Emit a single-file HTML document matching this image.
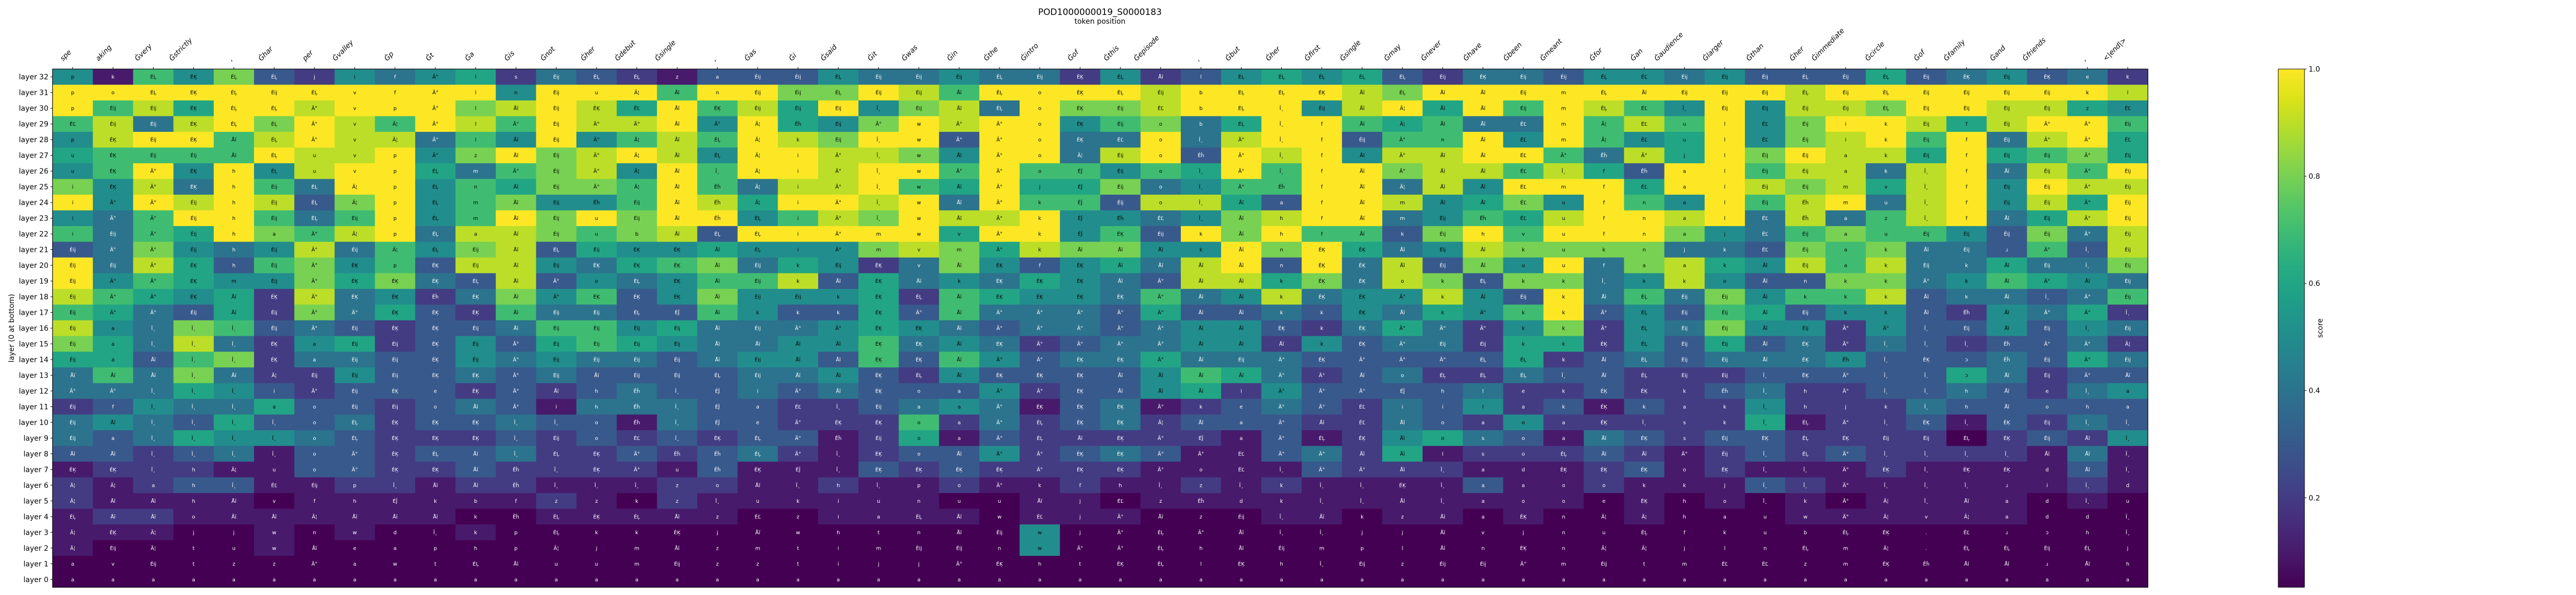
<!DOCTYPE html>
<html>
<head>
<meta charset="utf-8">
<style>
  html,body{margin:0;padding:0;background:#fff;width:5200px;height:1155px;overflow:hidden;}
  svg{display:block;font-family:"DejaVu Sans","Liberation Sans",sans-serif;overflow:hidden;}
</style>
</head>
<body>
<svg id="chart" xmlns="http://www.w3.org/2000/svg" width="5200" height="1155" viewBox="0 0 5200 1155" style="width:5200px;height:1155px;">
  <rect x="0" y="0" width="5200" height="1155" fill="#ffffff"/>
  <text x="2135" y="29" text-anchor="middle" font-size="17" fill="#000">POD1000000019_S0000183</text>
  <text x="2135" y="46" text-anchor="middle" font-size="14" fill="#000">token position</text>
  <text transform="translate(27,637) rotate(-90)" text-anchor="middle" font-size="14" fill="#000">layer (0 at bottom)</text>
  <g id="cells"></g>
  <g id="celltext"></g>
  <g id="xticks"></g>
  <g id="yticks"></g>
  <rect x="102" y="134" width="4067" height="1006" fill="none" stroke="#000" stroke-width="1.2"/>
  <defs>
    <linearGradient id="vir" x1="0" y1="1" x2="0" y2="0"></linearGradient>
  </defs>
  <rect x="4422" y="134" width="51" height="1006" fill="url(#vir)" stroke="#000" stroke-width="1"/>
  <g id="cbticks"></g>
  <text transform="translate(4508,637) rotate(-90)" text-anchor="middle" font-size="14" fill="#000">score</text>
</svg>
<script>
const tokens = ["spe","aking","Ġvery","Ġstrictly",",","Ġhar","per","Ġvalley","Ġp","Ġt","Ġa","Ġis","Ġnot","Ġher","Ġdebut","Ġsingle",",","Ġas","Ġi","Ġsaid","Ġit","Ġwas","Ġin","Ġthe","Ġintro","Ġof","Ġthis","Ġepisode",",","Ġbut","Ġher","Ġfirst","Ġsingle","Ġmay","Ġnever","Ġhave","Ġbeen","Ġmeant","Ġfor","Ġan","Ġaudience","Ġlarger","Ġthan","Ġher","Ġimmediate","Ġcircle","Ġof","Ġfamily","Ġand","Ġfriends",",","<|end|>"];
const layerLabels = ["layer 32","layer 31","layer 30","layer 29","layer 28","layer 27","layer 26","layer 25","layer 24","layer 23","layer 22","layer 21","layer 20","layer 19","layer 18","layer 17","layer 16","layer 15","layer 14","layer 13","layer 12","layer 11","layer 10","layer 9","layer 8","layer 7","layer 6","layer 5","layer 4","layer 3","layer 2","layer 1","layer 0"];
const colorbarTicks = [0.2,0.4,0.6,0.8,1.0];
const colorbarTickLabels = ["0.2","0.4","0.6","0.8","1.0"];
const scoreMin = 0.033;
const scoreMax = 1.0;
/* scores in tenths, one array per layer, columns follow tokens */
const layer32 = [5,1,7,5,8,3,2,5,4,5,6,2,4,3,2,1,3,3,3,5,4,4,5,4,4,2,5,2,3,5,6,5,6,3,2,4,4,3,5,5,4,5,3,3,3,6,3,4,5,3,4,2];
const layer31 = [10,10,10,10,10,10,10,10,10,10,10,5,10,10,10,7,10,10,8,8,10,9,7,10,10,10,10,9,10,10,10,10,9,8,10,10,10,10,10,10,10,10,10,9,10,10,10,10,10,10,10,9];
const layer30 = [10,7,9,6,10,10,9,10,10,10,8,9,10,9,6,10,7,9,6,10,5,8,9,4,10,8,8,9,10,10,10,5,9,10,6,10,7,10,9,7,5,10,5,9,9,8,10,10,9,9,6,5];
const layer29 = [7,9,4,9,10,8,10,9,7,10,9,7,10,9,9,10,5,10,6,5,8,10,9,10,10,5,7,8,4,6,10,10,7,6,7,4,4,10,7,9,7,10,5,8,10,10,9,6,9,10,10,7];
const layer28 = [5,9,10,10,7,9,10,9,9,4,7,5,10,5,7,9,7,10,9,8,10,10,3,10,10,4,4,10,4,9,10,10,3,7,7,10,5,10,7,5,6,10,5,8,9,10,7,10,4,9,10,6];
const layer27 = [6,7,7,7,7,10,9,9,10,5,8,10,8,9,10,9,5,10,10,9,9,8,5,10,10,4,9,10,3,10,9,10,5,9,9,10,10,7,4,9,6,10,8,10,9,9,6,10,6,7,8,6];
const layer26 = [5,7,10,5,10,5,9,10,10,6,4,7,8,9,5,10,7,10,10,9,10,10,7,10,7,7,5,7,6,10,7,10,10,8,9,9,7,9,6,3,10,10,7,9,9,4,9,10,4,9,7,10];
const layer25 = [8,5,9,4,10,7,4,10,10,5,7,6,8,8,7,10,7,4,9,9,10,7,6,10,6,6,8,4,5,7,7,10,10,4,9,5,10,10,10,6,10,10,9,8,9,6,9,10,5,10,9,9];
const layer24 = [10,5,10,9,10,9,3,8,10,5,7,8,5,5,7,10,9,6,10,10,9,10,4,10,7,7,3,9,9,6,3,10,10,9,5,6,8,5,10,7,5,10,7,9,10,4,9,10,5,9,6,10];
const layer23 = [5,4,7,10,10,7,4,7,10,5,7,10,8,10,8,10,10,5,7,9,8,10,9,9,10,5,5,4,5,8,9,10,10,4,5,7,6,9,10,10,9,10,4,9,4,7,9,10,4,6,9,10];
const layer22 = [7,4,7,6,10,8,7,9,10,4,9,9,8,7,8,9,3,10,10,10,10,10,6,10,10,5,7,3,10,8,10,7,7,3,8,10,7,10,10,10,8,5,4,7,8,7,7,5,3,8,4,9];
const layer21 = [3,4,8,5,4,5,9,4,7,5,8,9,3,6,5,5,6,5,5,5,8,9,8,6,9,8,8,5,5,10,8,10,6,4,5,9,8,8,8,8,4,4,3,8,7,8,4,4,3,7,3,9];
const layer20 = [10,4,9,6,3,7,8,5,7,3,9,9,5,4,6,7,8,4,6,5,2,4,8,5,3,5,6,4,9,10,3,10,4,9,3,8,5,10,4,8,9,6,5,9,7,9,4,4,6,4,4,8];
const layer19 = [10,5,7,6,5,5,8,6,8,4,3,9,3,5,4,5,7,7,9,3,6,4,5,4,6,5,4,3,9,9,6,8,4,9,8,3,8,8,4,5,9,5,3,3,8,8,4,5,7,6,5,4];
const layer18 = [9,7,6,5,6,2,9,4,5,2,4,8,5,7,3,5,8,5,5,5,6,2,7,6,5,5,4,7,4,5,9,4,5,5,9,5,3,10,4,7,4,8,5,7,7,9,3,4,4,3,4,7];
const layer17 = [7,6,4,3,6,2,8,4,6,3,2,7,4,4,3,3,7,5,3,3,6,3,7,4,4,4,3,6,3,3,4,3,5,4,6,5,7,10,3,5,3,7,6,3,5,5,3,2,5,4,6,2];
const layer16 = [9,5,4,8,7,3,4,3,2,3,3,4,7,7,5,6,4,4,4,5,6,5,4,3,4,4,3,4,5,5,3,2,4,6,4,2,5,8,2,5,4,8,5,5,2,5,3,3,5,3,5,4];
const layer15 = [8,6,4,9,4,2,5,6,2,3,5,3,6,7,6,5,4,4,5,5,7,4,5,4,2,3,4,4,5,5,2,5,3,4,4,2,6,6,2,5,3,6,3,4,2,4,3,2,3,3,4,2];
const layer14 = [6,6,3,7,8,2,4,4,3,3,5,4,5,4,4,3,4,5,5,3,7,3,7,5,3,4,4,6,4,4,4,3,3,3,3,3,6,2,3,4,3,4,4,4,5,3,3,3,4,3,6,4];
const layer13 = [4,7,4,8,4,2,2,5,3,3,4,3,4,3,3,3,3,4,4,5,3,2,5,3,3,3,3,5,7,6,4,2,3,4,2,2,4,3,3,2,2,2,3,3,3,3,3,6,4,2,3,3];
const layer12 = [4,4,4,6,5,3,2,3,3,3,2,3,2,3,4,3,3,4,3,4,3,3,3,5,2,3,3,5,6,2,5,3,3,3,3,4,2,2,3,2,2,3,4,2,2,3,3,4,3,2,4,5];
const layer11 = [2,3,5,4,4,6,3,3,2,3,4,3,1,4,4,4,3,3,2,2,3,4,5,4,1,3,4,1,2,3,4,3,2,4,3,5,2,3,1,3,2,2,5,2,2,2,4,3,3,3,3,3];
const layer10 = [4,5,4,3,6,3,3,4,2,3,3,4,3,3,1,4,3,3,2,2,2,7,2,4,2,3,4,2,3,3,3,2,2,4,3,2,5,2,2,2,2,2,6,1,2,2,3,1,3,2,4,3];
const layer9  = [4,3,4,6,5,5,4,3,2,2,2,3,2,3,2,3,2,3,3,1,2,6,1,3,2,2,2,2,2,1,3,1,2,5,6,4,3,1,4,3,2,3,3,2,2,2,2,0,2,3,2,5];
const layer8  = [3,3,2,3,4,1,3,3,2,3,3,4,2,2,3,2,3,4,2,1,2,3,3,5,2,3,4,3,1,1,3,4,2,6,1,2,2,2,3,2,1,2,3,2,3,2,2,2,2,1,4,1];
const layer7  = [1,2,2,2,1,1,3,3,2,2,3,2,2,2,2,1,3,1,1,1,3,2,3,2,2,2,2,1,1,1,1,3,2,2,2,1,1,1,2,3,1,2,1,1,1,2,1,1,1,1,3,1];
const layer6  = [2,1,2,3,3,1,1,2,2,1,2,2,1,1,1,2,2,1,1,2,1,1,2,1,1,2,1,1,2,1,2,1,1,1,1,3,1,1,2,1,1,1,3,2,1,1,1,1,1,1,2,1];
const layer5  = [2,1,1,1,1,0,1,1,1,1,1,1,2,1,0,2,1,1,1,1,1,1,0,0,1,1,0,1,1,1,1,1,1,1,1,1,1,1,0,1,0,1,0,1,0,1,1,1,1,0,1,0];
const layer4  = [1,2,2,1,1,1,1,1,1,1,0,0,1,1,1,1,1,0,0,1,1,1,1,0,1,1,1,0,0,0,1,1,0,1,1,0,1,0,0,1,0,0,0,1,1,1,1,1,1,0,0,0];
const layer3  = [1,1,1,0,0,1,0,1,0,0,1,0,0,0,0,0,0,0,0,0,0,0,0,0,5,0,0,0,0,0,0,0,0,0,0,0,0,0,0,0,0,0,0,0,0,0,0,0,0,0,0,0];
const layer2  = [1,0,0,0,0,1,0,0,0,0,0,0,0,0,0,0,0,0,0,0,0,0,0,0,5,0,0,0,0,0,0,0,0,0,0,0,0,0,0,0,0,0,0,0,0,0,0,0,0,0,0,0];
const layer1  = [0,0,0,0,0,0,0,0,0,0,0,0,0,0,0,0,0,0,0,0,0,0,0,0,0,0,0,0,0,0,0,0,0,0,0,0,0,0,0,0,0,0,0,0,0,0,0,0,0,0,0,0];
const layer0  = [0,0,0,0,0,0,0,0,0,0,0,0,0,0,0,0,0,0,0,0,0,0,0,0,0,0,0,0,0,0,0,0,0,0,0,0,0,0,0,0,0,0,0,0,0,0,0,0,0,0,0,0];
const scoreRows = [layer32,layer31,layer30,layer29,layer28,layer27,layer26,layer25,layer24,layer23,layer22,layer21,layer20,layer19,layer18,layer17,layer16,layer15,layer14,layer13,layer12,layer11,layer10,layer9,layer8,layer7,layer6,layer5,layer4,layer3,layer2,layer1,layer0];
/* predicted-token text per cell (one character code per column) */
const tokenCodebook = {A:"ÉĻ",B:"Éij",C:"ÉĶ",D:"ÉĽ",E:"Ã°",F:"Åĭ",G:"Ã¦",H:"Êĥ",I:"Î¸",J:"ÉĴ",Q:"ɔ",R:"ɹ"};
const cellTextRows = [
"pkACAAjifElsBAAzaBBABBBABCAFlAAAAABCBBADBBBABABCBCek",
"poACABAvfElnBuGFnBBABBFAoCABbAACFAFFBmAFBBBABABBBBkl",
"pBBCAAEvpElFBCDFCBBBIBFAoCBDbAIBFGFFBmADIBBBBABBBBzD",
"DBBCAAEvGElEBEEFEGHBEwEEoCBobAIfFGFFDmGDulDBikBfBEEB",
"pCBCFAEvGElFBEGFAGkBIwEEoCDoIEIfBEnFDmGDulDBikBfBEED",
"uCBBFAuvpEzFBEGFAGiEIwFEoGBoHEIfFEFFDEHEjlBBakBfBBEB",
"uCEChAuvpAmEBEGFIGiEIwEEoJBoIEIfFEFFDIfHalBBakIfFBEB",
"iCEChBAGpAnFBEGFHGiEIwFEjJBoIEHfFGFFDmfDalBBmvIfBBEB",
"iEEBhBAGpAmFBHBFHGiEIwFEkJBoIFafFmFFDufnalBHmuIfBBEB",
"iEEBhBABpAmFBuBFHAiEIwFEkJHDIFhfFmBHDufnalDHazIfFBEB",
"iBEBhaEGpAaFBubFAAiEmwvEkJCBkFhfFkBhvufnajDBauBBBBEB",
"BEEBhBEBGABFABCCFAiEmvmEkFFFkFnCCFBFkuknjkDBakFBREIB",
"BBEChBECpCBFBCCCFBkBCvFCfCFFFFnCCFBFuufaakFBakBkFBIB",
"BEECmBECCCAFEoACFBkFCFkCCCFEFFkCCokAkkIkkoFnkkEkFEFB",
"BEECFCECCHCFECCCFBBkCAFCCCCEFFkCCEkFBkFABBFkkkFkFIEB",
"BEEBFBEECCCFBBAJFkkkCEFEEEEEFFkkCFkEkkEABBFBkkFHFEEI",
"BaIIIBEBCCBFBBBBFBEECCFEEEEEFFCkCEEEkkEABBFBEEIBFBIB",
"BaIIICaBBCBEBBBBFFFFCCFCEEEEFFFkCEBBkkCABBFCEIIIHEEG",
"BaFIICaBBCBEBBBBFBFFCCFEECCEFBECEEEAAkFABBFCHICQHBEB",
"FFFIFGBBBCCEBFBBABFFCAFCCCFFFFEEFoAAAIFABBICEIIQFBEF",
"EEIIIiEBCeCEFhHIJiEFCoaEECFFFiEEEJhlekCCkHIhEIIhFeIa",
"BfIIIaoBBoFEihHIJaDIBaaECCCEkeEEDiilakCkakIhjkIhFoha",
"BFIIIIoACCCIIoHIJeECCoaEACCGFaEFDFoaoaCIskIAEICICBII",
"BaIIIIoACCCIBoDICAEHBoaEAFCEJaEACFosoaFCsBCACBBACBFI",
"FFIIIIoECAFIACEHHAEICoFEECCEEDEEFFlsoAFFEBIAEIIIIFFI",
"CCIhGuoECCFHICEuHCJICCCCECCEoDIEEFIadCCCoCIIECICCdFI",
"GGahIDBpIFFHIIIzoFIhIpoEkfhIzIkIICIaaookkjIIEIIIRiId",
"GFFhFvfhJkbfzzkzIukiunuuFjDzHdkIIFIaooeChoIkEGIFadIu",
"AFFoFFGFFFkHACAFzDziaAFwDjEFzBIFkzFaCnGGhauwEGvGaddI",
"GCGjjwnwdIkpAkkCjFwhtnFBwjEAEFIIjjFvjnuAfkubAC.DRQhI",
"GBGtuwFeaphpGjmFzmtimBBnwEEAhFBmplFnCnGGjlnAmG.AABAj",
"avBtzzEawtAFuumBzztijjEChtCAlChIBzBBEmBtmDDzmCHFFRFh",
"aaaaaaaaaaaaaaaaaaaaaaaaaaaaaaaaaaaaaaaaaaaaaaaaaaaa"
];

const viridisStops = ["#440154","#48186a","#472d7b","#424086","#3b528b","#33638d","#2c728e","#26828e","#21918c","#1fa088","#28ae80","#3fbc73","#5ec962","#84d44b","#addc30","#d8e219","#fde725"];

const plot = {left:102, top:134, width:4067, height:1006};
const nCols = tokens.length, nRows = layerLabels.length;
const colW = plot.width / nCols, rowH = plot.height / nRows;
function xScale(i){ return plot.left + i*colW; }
function yScale(j){ return plot.top + j*rowH; }
function cbY(v){ return plot.top + plot.height - (v - scoreMin)/(scoreMax - scoreMin)*plot.height; }
function hex2rgb(h){ return [parseInt(h.slice(1,3),16),parseInt(h.slice(3,5),16),parseInt(h.slice(5,7),16)]; }
function viridis(t){
  t = Math.max(0, Math.min(1, t));
  const p = t*(viridisStops.length-1), i = Math.min(Math.floor(p), viridisStops.length-2), f = p - i;
  const a = hex2rgb(viridisStops[i]), b = hex2rgb(viridisStops[i+1]);
  return "rgb(" + a.map((v,k)=>Math.round(v+(b[k]-v)*f)).join(",") + ")";
}
function scoreOf(tenths){ return Math.max(tenths/10, scoreMin); }

const NS = "http://www.w3.org/2000/svg";
const gCells = document.getElementById("cells");
const gText = document.getElementById("celltext");
for (let j=0;j<nRows;j++){
  for (let i=0;i<nCols;i++){
    const s = scoreOf(scoreRows[j][i]);
    const r = document.createElementNS(NS,"rect");
    r.setAttribute("x", xScale(i)); r.setAttribute("y", yScale(j));
    r.setAttribute("width", colW+0.6); r.setAttribute("height", rowH+0.6);
    r.setAttribute("fill", viridis((s-scoreMin)/(scoreMax-scoreMin)));
    
    
    gCells.appendChild(r);
    const ch = cellTextRows[j][i];
    const t = document.createElementNS(NS,"text");
    t.setAttribute("x", xScale(i)+colW/2); t.setAttribute("y", yScale(j)+rowH/2+3.5);
    t.setAttribute("text-anchor","middle"); t.setAttribute("font-size","10");
    t.setAttribute("fill", s >= 0.5 ? "#000" : "#fff");
    t.textContent = tokenCodebook[ch] || ch;
    
    
    gText.appendChild(t);
  }
}

const gX = document.getElementById("xticks");
for (let i=0;i<nCols;i++){
  const cx = xScale(i)+colW/2;
  const ln = document.createElementNS(NS,"line");
  ln.setAttribute("x1",cx); ln.setAttribute("x2",cx); ln.setAttribute("y1",plot.top-4); ln.setAttribute("y2",plot.top);
  ln.setAttribute("stroke","#000"); ln.setAttribute("stroke-width","1");
  
  
  gX.appendChild(ln);
  const t = document.createElementNS(NS,"text");
  t.setAttribute("font-size","13.5"); t.setAttribute("font-style","italic"); t.setAttribute("fill","#000");
  t.textContent = tokens[i];
  
  
  gX.appendChild(t);
  let L = 0;
  try { L = t.getComputedTextLength(); } catch(e) { L = tokens[i].length*7.5; }
  if (!L) L = tokens[i].length*7.5;
  const x0 = cx - L*0.7071 - 2, y0 = 119;
  t.setAttribute("transform","translate("+x0+","+y0+") rotate(-45)");
}

const gY = document.getElementById("yticks");
for (let j=0;j<nRows;j++){
  const cy = yScale(j)+rowH/2;
  const ln = document.createElementNS(NS,"line");
  ln.setAttribute("x1",plot.left-4); ln.setAttribute("x2",plot.left); ln.setAttribute("y1",cy); ln.setAttribute("y2",cy);
  ln.setAttribute("stroke","#000"); ln.setAttribute("stroke-width","1");
  
  
  gY.appendChild(ln);
  const t = document.createElementNS(NS,"text");
  t.setAttribute("x",plot.left-8); t.setAttribute("y",cy+5);
  t.setAttribute("text-anchor","end"); t.setAttribute("font-size","14"); t.setAttribute("fill","#000");
  t.textContent = layerLabels[j];
  
  
  gY.appendChild(t);
}

const grad = document.getElementById("vir");
viridisStops.forEach((c,k)=>{
  const st = document.createElementNS(NS,"stop");
  st.setAttribute("offset", (k/(viridisStops.length-1)*100)+"%");
  st.setAttribute("stop-color", c);
  grad.appendChild(st);
});

const gCb = document.getElementById("cbticks");
colorbarTicks.forEach((v,k)=>{
  const y = cbY(v);
  const ln = document.createElementNS(NS,"line");
  ln.setAttribute("x1",4473); ln.setAttribute("x2",4477); ln.setAttribute("y1",y); ln.setAttribute("y2",y);
  ln.setAttribute("stroke","#000"); ln.setAttribute("stroke-width","1");
  
  
  gCb.appendChild(ln);
  const t = document.createElementNS(NS,"text");
  t.setAttribute("x",4481); t.setAttribute("y",y+5);
  t.setAttribute("font-size","14"); t.setAttribute("fill","#000");
  t.textContent = colorbarTickLabels[k];
  
  
  gCb.appendChild(t);
});
</script>
</body>
</html>
